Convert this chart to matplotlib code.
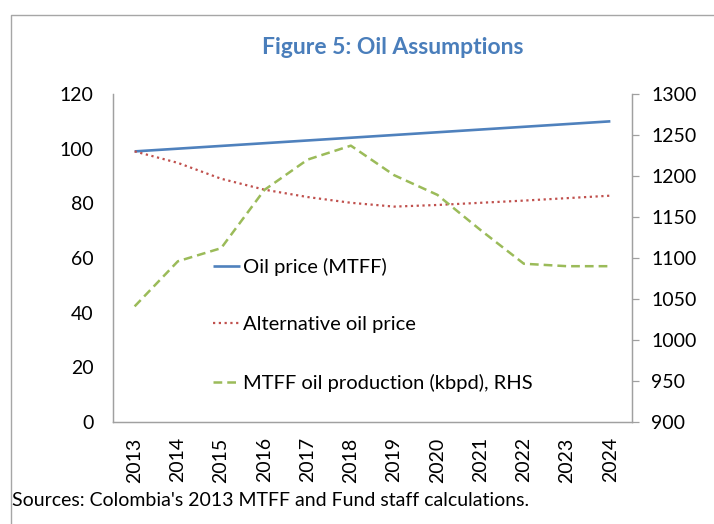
import matplotlib.pyplot as plt
from matplotlib.lines import Line2D

plt.rcParams['font.family'] = ['Lato', 'DejaVu Sans']

# ---------- Data ----------
years = ["2013", "2014", "2015", "2016", "2017", "2018",
         "2019", "2020", "2021", "2022", "2023", "2024"]
oil_price_mtff = [99, 100, 101, 102, 103, 104, 105, 106, 107, 108, 109, 110]
alt_oil_price = [99, 94.8, 89, 85, 82.3, 80.2, 78.8, 79.4, 80.2, 81, 81.9, 82.8]
oil_production = [1041, 1096, 1112, 1183, 1220, 1237, 1201, 1177, 1134, 1093, 1090, 1090]

blue = "#4F81BD"
red = "#C0504D"
green = "#9BBB59"
axis_grey = "#A0A0A0"

# ---------- Figure ----------
fig = plt.figure(figsize=(7.14, 5.24), dpi=100)

# chart frame (only left and top edges visible in the crop)
frame = Line2D([11 / 714, 11 / 714, 1.0], [0.0, 1 - 15 / 524, 1 - 15 / 524],
               transform=fig.transFigure, color="#A6A6A6", lw=1.0)
fig.add_artist(frame)

ax = fig.add_axes([113 / 714, 1 - 422 / 524, 519 / 714, 328 / 524])
x = list(range(len(years)))

l1, = ax.plot(x, oil_price_mtff, color=blue, lw=1.9, solid_capstyle="butt")
l2, = ax.plot(x, alt_oil_price, color=red, lw=1.6, linestyle=(0, (1, 1.6)))
ax.set_xlim(-0.5, len(years) - 0.5)
ax.set_ylim(0, 120)
ax.set_yticks(range(0, 121, 20))

ax2 = ax.twinx()
l3, = ax2.plot(x, oil_production, color=green, lw=1.8, linestyle=(0, (3.5, 2)))
ax2.set_ylim(900, 1300)
ax2.set_yticks(range(900, 1301, 50))

# ---------- Axes styling ----------
for a in (ax, ax2):
    a.spines["top"].set_visible(False)
    for s in ("left", "right", "bottom"):
        a.spines[s].set_color(axis_grey)
        a.spines[s].set_linewidth(0.9)

ax.set_xticks(x)
ax.set_xticklabels(years, rotation=90, fontsize=14)
ax.tick_params(axis="x", length=0, pad=11)
ax.tick_params(axis="y", length=0, pad=14, labelsize=14)
ax2.tick_params(axis="y", direction="out", length=5, width=0.9,
                color=axis_grey, pad=9, labelsize=14)

# ---------- Legend ----------
ax.legend([l1, l2, l3],
          ["Oil price (MTFF)", "Alternative oil price",
           "MTFF oil production (kbpd), RHS"],
          loc="center left", bbox_to_anchor=(0.193, 0.296),
          frameon=False, fontsize=14.5, borderpad=0, borderaxespad=0,
          handlelength=1.35, handletextpad=0.15, labelspacing=2.0)

# ---------- Text ----------
fig.text(393 / 714, 1 - 47 / 524, "Figure 5: Oil Assumptions",
         ha="center", va="center", fontsize=16.5, fontweight="bold",
         color="#4A7EBB")
fig.text(12 / 714, 1 - 500 / 524,
         "Sources: Colombia's 2013 MTFF and Fund staff calculations.",
         ha="left", va="center", fontsize=14)

plt.savefig("out.png", dpi=100)
